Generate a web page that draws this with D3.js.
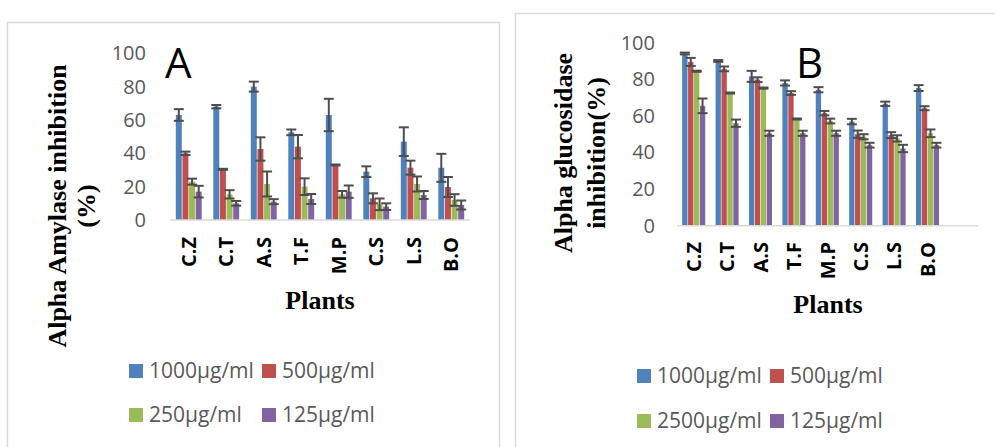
<!DOCTYPE html>
<html>
<head>
<meta charset="utf-8">
<script src="https://cdn.jsdelivr.net/npm/d3@7"></script>
<style>
  body { margin: 0; background: #fff; }
  svg { display: block; }
</style>
</head>
<body>
<div id="chart"></div>
<script>
// categories
const plants = ['C.Z', 'C.T', 'A.S', 'T.F', 'M.P', 'C.S', 'L.S', 'B.O'];
const yTicks = [0, 20, 40, 60, 80, 100];

// panel A - alpha amylase
const amylaseSeries = ['1000µg/ml', '500µg/ml', '250µg/ml', '125µg/ml'];
const amylase1000 = [63, 68, 80, 52.6, 63, 29, 47, 31.3];
const amylase500 = [40, 30.4, 42.6, 44, 33, 13, 31.4, 19.8];
const amylase250 = [23, 15.4, 21.6, 20, 15.4, 9.4, 21.6, 12];
const amylase125 = [17, 10, 11, 12.6, 17, 8, 15, 9];
const amylaseErr1000 = [3.5, 1, 3, 1.7, 9.7, 3.2, 8.6, 8.4];
const amylaseErr500 = [1, 0.3, 7, 7, 0.3, 3, 4.2, 6];
const amylaseErr250 = [1.8, 2.5, 7.5, 5, 2, 3.5, 4.5, 3.5];
const amylaseErr125 = [3.5, 1.4, 1.5, 3, 3.7, 2, 2.4, 2.7];

// panel B - alpha glucosidase
const glucoSeries = ['1000µg/ml', '500µg/ml', '2500µg/ml', '125µg/ml'];
const gluco1000 = [94.1, 90, 81.6, 78, 74.3, 56.9, 66.6, 75.2];
const gluco500 = [89.5, 85.7, 79.8, 72.5, 61.5, 50, 49.5, 64.2];
const gluco2500 = [84.4, 72.5, 75.2, 58.3, 57.2, 48.6, 47.7, 50.5];
const gluco125 = [65.5, 56, 50.5, 50.5, 50.5, 44, 42.2, 44];
const glucoErr1000 = [0.5, 0.5, 3, 1.4, 1.4, 1.5, 1.2, 1.6];
const glucoErr500 = [2.2, 1.3, 1.3, 1, 1.2, 2, 1.6, 1.1];
const glucoErr2500 = [0.3, 0.3, 0.3, 0.3, 1.3, 1.4, 1.7, 2.1];
const glucoErr125 = [4, 2, 1.4, 1.4, 1.4, 1.3, 2, 1.3];

const colors = ['#4F81BD', '#C0504D', '#9BBB59', '#8064A2'];

const svg = d3.select('#chart').append('svg')
    .attr('width', 995)
    .attr('height', 447);

function drawPanel(cfg) {
  const g = svg.append('g');

  // frame
  g.append('path')
      .attr('d', cfg.frame)
      .attr('fill', 'none')
      .attr('stroke', '#D9D9D9')
      .attr('stroke-width', 1.5);

  const y = d3.scaleLinear().domain([0, 100]).range([cfg.y0, cfg.y100]);
  const x = d3.scaleBand().domain(plants)
      .range([cfg.x0, cfg.x0 + cfg.step * plants.length])
      .paddingInner(0.31).paddingOuter(0.155);
  const xs = d3.scaleBand().domain(d3.range(4))
      .range([0, x.bandwidth()]).paddingInner(0.1);

  // y axis labels
  const yAxis = g.append('g')
      .attr('transform', `translate(${cfg.yLabelX},0)`)
      .call(d3.axisLeft(y).tickValues(yTicks).tickSize(0).tickPadding(0));
  yAxis.select('.domain').remove();
  yAxis.selectAll('text')
      .attr('fill', '#595959')
      .style('font-family', '"Open Sans", sans-serif')
      .style('font-size', '20px');

  // bars
  cfg.values.forEach((vals, si) => {
    g.append('g').selectAll('rect')
      .data(plants)
      .join('rect')
        .attr('x', (d) => x(d) + xs(si))
        .attr('y', (d, i) => y(vals[i]))
        .attr('width', xs.bandwidth())
        .attr('height', (d, i) => y(0) - y(vals[i]))
        .attr('fill', colors[si]);
  });

  // error bars
  cfg.values.forEach((vals, si) => {
    const errs = cfg.errors[si];
    const eg = g.append('g')
        .attr('stroke', '#4D4D4D')
        .attr('stroke-width', 2);
    plants.forEach((p, i) => {
      const cx = x(p) + xs(si) + xs.bandwidth() / 2;
      const top = y(vals[i] + errs[i]);
      const bot = y(vals[i] - errs[i]);
      eg.append('line').attr('x1', cx).attr('x2', cx).attr('y1', top).attr('y2', bot);
      eg.append('line').attr('x1', cx - 5).attr('x2', cx + 5).attr('y1', top).attr('y2', top);
      eg.append('line').attr('x1', cx - 5).attr('x2', cx + 5).attr('y1', bot).attr('y2', bot);
    });
  });

  // x axis
  const xAxis = g.append('g')
      .attr('transform', `translate(0,${cfg.y0})`)
      .call(d3.axisBottom(x).tickSize(0).tickSizeOuter(0));
  xAxis.select('.domain').remove();
  g.append('line')
      .attr('x1', cfg.x0).attr('x2', cfg.axisEnd)
      .attr('y1', cfg.y0).attr('y2', cfg.y0)
      .attr('stroke', '#D9D9D9')
      .attr('stroke-width', 1.5);
  xAxis.selectAll('text')
      .attr('transform', `translate(0,${cfg.labelTop - cfg.y0}) rotate(-90)`)
      .attr('x', 0).attr('y', 0).attr('dy', '0.36em')
      .attr('text-anchor', 'end')
      .attr('fill', '#000')
      .style('font-family', '"Open Sans", sans-serif')
      .style('font-weight', 'bold')
      .style('font-size', '20px');

  // axis titles
  const serif = '"Liberation Serif", "Times New Roman", serif';
  cfg.yTitle.forEach((t) => {
    g.append('text')
        .attr('transform', `translate(${t.x},${t.y}) rotate(-90)`)
        .attr('text-anchor', 'middle')
        .style('font-family', serif)
        .style('font-weight', 'bold')
        .style('font-size', '26px')
        .text(t.text);
  });
  g.append('text')
      .attr('x', cfg.plantsX).attr('y', cfg.plantsY)
      .attr('text-anchor', 'middle')
      .style('font-family', serif)
      .style('font-weight', 'bold')
      .style('font-size', '26px')
      .text('Plants');

  // panel letter
  g.append('text')
      .attr('x', cfg.letter.x).attr('y', cfg.letter.y)
      .style('font-family', '"Open Sans", sans-serif')
      .style('font-size', '42px')
      .text(cfg.letter.text);

  // legend
  cfg.series.forEach((s, i) => {
    const pos = cfg.legend[i];
    g.append('rect')
        .attr('x', pos.x).attr('y', pos.y - 14)
        .attr('width', 14).attr('height', 14)
        .attr('fill', colors[i]);
    g.append('text')
        .attr('x', pos.x + 20).attr('y', pos.y)
        .attr('fill', '#595959')
        .style('font-family', '"Open Sans", sans-serif')
        .style('font-size', '21px')
        .text(s);
  });
}

drawPanel({
  frame: 'M7.5,447 L7.5,22.5 L499.5,22.5 L499.5,447',
  x0: 170, step: 37.5, axisEnd: 470,
  y0: 220, y100: 53.3,
  yLabelX: 146,
  labelTop: 237,
  values: [amylase1000, amylase500, amylase250, amylase125],
  errors: [amylaseErr1000, amylaseErr500, amylaseErr250, amylaseErr125],
  series: amylaseSeries,
  yTitle: [
    { x: 66, y: 206, text: 'Alpha Amylase inhibition' },
    { x: 95, y: 206, text: '(%)' }
  ],
  plantsX: 320, plantsY: 309,
  letter: { x: 165, y: 78, text: 'A' },
  legend: [{ x: 129, y: 378 }, { x: 262, y: 378 }, { x: 129, y: 422 }, { x: 262, y: 422 }]
});

drawPanel({
  frame: 'M515.5,447 L515.5,13.5 L995,13.5',
  x0: 677, step: 33.4, axisEnd: 978,
  y0: 225.7, y100: 42.7,
  yLabelX: 655,
  labelTop: 242,
  values: [gluco1000, gluco500, gluco2500, gluco125],
  errors: [glucoErr1000, glucoErr500, glucoErr2500, glucoErr125],
  series: glucoSeries,
  yTitle: [
    { x: 572, y: 153, text: 'Alpha glucosidase' },
    { x: 605, y: 153, text: 'inhibition(%)' }
  ],
  plantsX: 828, plantsY: 313,
  letter: { x: 796, y: 78, text: 'B' },
  legend: [{ x: 637, y: 383 }, { x: 770, y: 383 }, { x: 637, y: 428 }, { x: 770, y: 428 }]
});
</script>
</body>
</html>
